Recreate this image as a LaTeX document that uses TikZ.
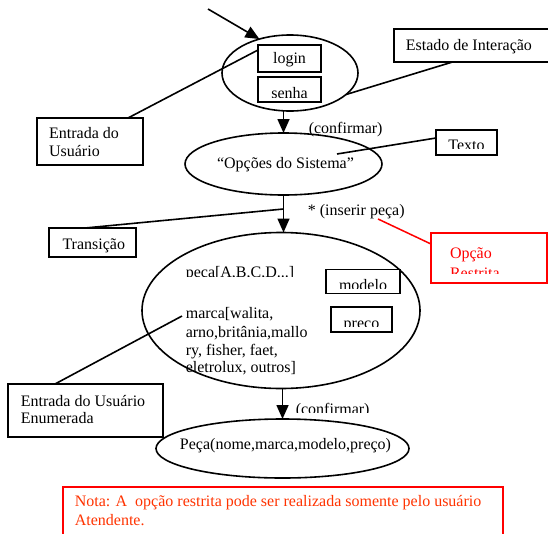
\documentclass[tikz,border=0pt]{standalone}
\usepackage{fontspec}
\setmainfont{Liberation Serif}
\usetikzlibrary{shapes.geometric,arrows.meta}
\definecolor{notared}{RGB}{255,51,0}
\begin{document}
\begin{tikzpicture}[x=1pt,y=-1pt, line width=1.6pt, font=\fontsize{16}{18}\selectfont,
  ell/.style={draw, ellipse, inner sep=0, outer sep=0},
  tbox/.style={draw, fill=white, rectangle, inner sep=0, outer sep=0},
  rbox/.style={tbox, draw=red, line width=1.5pt},
  arr/.style={-{Triangle[length=14pt,width=12pt]}},
  lbl/.style={anchor=base west, inner sep=0},
  inner/.style={inner sep=0, minimum width=0pt, minimum height=0pt, draw=none, fill=none},
  clipped/.style n args={3}{path picture={
      \clip ([yshift=#1]path picture bounding box.south west) rectangle (path picture bounding box.north east);
      \node[inner, anchor=base] at ([yshift=#2]path picture bounding box.south) {#3};}},
]
\useasboundingbox (0,0) rectangle (548,533);

% ellipses
\node[ell, minimum width=136pt, minimum height=76pt] (e1) at (290,73) {};
\node[ell, minimum width=197pt, minimum height=62pt] (e2) at (283.5,164) {};
\node[ell, minimum width=278pt, minimum height=156pt] (e3) at (281,310.5) {};
\node[ell, minimum width=253pt, minimum height=59pt] (e4) at (282.5,448.5) {};

\node[anchor=base, inner sep=0] (t2) at (285.5,168) {“Opções do Sistema”};
\node[anchor=base, inner sep=0] (t4) at (285.5,449.3) {Peça(nome,marca,modelo,preço)};

% arrows
\coordinate (inS) at (208,9);
\draw[arr] (inS) -- (e1.132);
\draw[arr] (e2.north |- e1.south) -- (e2.north);
\draw[arr] (e2.south) -- (e2.south |- e3.north);
\draw[arr] (e4.north |- e3.south) -- (e4.north);

% labels on arrows
\node[lbl] (conf1) at (308,133) {(confirmar)};
\node[lbl] (ins) at (307,215) {* (inserir peça)};
\begin{scope}
  \clip (290,395) rectangle (380,412.9);
  \node[lbl] (conf2) at (295,414) {(confirmar)};
\end{scope}

% texts inside big ellipse
\begin{scope}
  \clip (180,260) rectangle (310,276.7);
  \node[lbl] (peca) at (185,277.5) {peça[A,B,C,D...]};
\end{scope}
\node[lbl] (m1) at (185,318.3) {marca[walita,};
\node[lbl] (m2) at (185,337.3) {arno,britânia,mallo};
\node[lbl] (m3) at (185,355) {ry, fisher, faet,};
\node[lbl] (m4) at (185,372.7) {eletrolux, outros]};

% boxes
\node[tbox, minimum width=155pt, minimum height=33pt] (estado) at (471.5,45.5) {};
\node[lbl] (estadotxt) at (405,50) {Estado de Interação};
\node[tbox, minimum width=106pt, minimum height=47pt] (entrada) at (90,141.5) {};
\node[lbl] (entrada1) at (48.3,138.3) {Entrada do};
\node[lbl] (entrada2) at (48.3,156.7) {Usuário};
\node[tbox, minimum width=87pt, minimum height=29pt] (transicao) at (92.5,242.5) {};
\node[lbl] (transtxt) at (61.7,249) {Transição};
\node[tbox, minimum width=155pt, minimum height=53pt] (enum) at (85.5,410.5) {};
\node[lbl] (enum1) at (20,406) {Entrada do Usuário};
\node[lbl] (enum2) at (20,423.3) {Enumerada};

\draw ([xshift=-19pt]estado.south) -- (e1.-21.8);
\coordinate (txe) at (337,154);
\coordinate (trE) at (283.5,209);
\coordinate (rs) at (378,219);
\coordinate (me) at (182,316);

\node[tbox, minimum width=63pt, minimum height=27pt] (login) at (289.5,58.5) {};
\node[anchor=base, inner sep=0] (logintxt) at (289.5,63.5) {login};
\node[tbox, minimum width=63pt, minimum height=25pt, clipped={4.4pt}{3.5pt}{senha}] (senha) at (289.5,89.5) {};
\node[tbox, minimum width=61pt, minimum height=25pt, clipped={6.7pt}{4.2pt}{Texto}] (texto) at (466.5,142.5) {};
\node[tbox, minimum width=74pt, minimum height=24pt, clipped={5pt}{2.7pt}{modelo}] (modelo) at (363,281.3) {};
\node[tbox, minimum width=61pt, minimum height=25pt, clipped={5pt}{3.7pt}{preço}] (preco) at (361.5,319.2) {};

\node[rbox, minimum width=116pt, minimum height=50pt, path picture={
    \clip ([yshift=9.4pt]path picture bounding box.south west) rectangle (path picture bounding box.north east);
    \node[inner, anchor=base west, text=red] at ([xshift=19pt,yshift=24.4pt]path picture bounding box.south west) {Opção};
    \node[inner, anchor=base west, text=red] at ([xshift=19pt,yshift=4.6pt]path picture bounding box.south west) {Restrita};}] (opcao) at (489,258) {};

\node[rbox, minimum width=440pt, minimum height=58pt] (nota) at (283,516) {};
\node[lbl, text=notared] (nota1) at (74,506.7) {Nota: A~ opção restrita pode ser realizada somente pelo usuário};
\node[lbl, text=notared] (nota2) at (74,525.7) {Atendente.};

\draw ([xshift=38pt]entrada.north) -- ([yshift=8.5pt]login.west);
\draw ([yshift=4.5pt]texto.west) -- (txe);
\draw ([xshift=-7.5pt]transicao.north) -- (trE);
\draw[red, line width=1.5pt] (rs) -- ([yshift=14pt]opcao.west);
\draw ([xshift=-30.5pt]enum.north) -- (me);
\end{tikzpicture}
\end{document}
